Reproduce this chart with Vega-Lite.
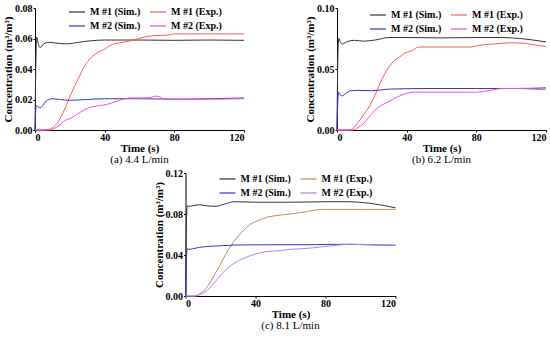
{
  "$schema": "https://vega.github.io/schema/vega-lite/v6.json",
  "padding": {"left": 2, "top": 3, "right": 2, "bottom": 0},
  "config": {
    "view": {"stroke": null},
    "axis": {"grid": false, "domainColor": "black", "tickColor": "black", "labelFont": "Liberation Serif", "labelFontWeight": "bold", "labelFontSize": 10, "labelColor": "black", "titleFont": "Liberation Serif", "titleFontWeight": "bold", "titleFontSize": 11, "titleColor": "black", "tickSize": 2, "labelPadding": 1, "titlePadding": 1},
    "axisX": {"labelPadding": 0, "titlePadding": 0},
    "legend": {"orient": "none", "direction": "horizontal", "columns": 2, "symbolType": "stroke", "symbolSize": 256, "symbolStrokeWidth": 1.2, "labelFont": "Liberation Serif", "labelFontWeight": "bold", "labelFontSize": 10, "labelColor": "black", "columnPadding": 6, "rowPadding": -7, "labelOffset": 4, "title": null},
    "title": {"font": "Liberation Serif", "fontWeight": "normal", "fontSize": 11, "color": "black", "offset": 1}
  },
  "datasets": {
    "d": [
      {"p":"a","s":"M #1 (Sim.)","t":0,"c":0},{"p":"a","s":"M #1 (Sim.)","t":0.5,"c":0.045},{"p":"a","s":"M #1 (Sim.)","t":1,"c":0.061},{"p":"a","s":"M #1 (Sim.)","t":2,"c":0.056},{"p":"a","s":"M #1 (Sim.)","t":3,"c":0.054},{"p":"a","s":"M #1 (Sim.)","t":5,"c":0.0565},{"p":"a","s":"M #1 (Sim.)","t":8,"c":0.0575},{"p":"a","s":"M #1 (Sim.)","t":12,"c":0.057},{"p":"a","s":"M #1 (Sim.)","t":18,"c":0.0565},{"p":"a","s":"M #1 (Sim.)","t":25,"c":0.0575},{"p":"a","s":"M #1 (Sim.)","t":32,"c":0.0585},{"p":"a","s":"M #1 (Sim.)","t":40,"c":0.059},{"p":"a","s":"M #1 (Sim.)","t":60,"c":0.059},{"p":"a","s":"M #1 (Sim.)","t":80,"c":0.0588},{"p":"a","s":"M #1 (Sim.)","t":100,"c":0.059},{"p":"a","s":"M #1 (Sim.)","t":120,"c":0.0588},
      {"p":"a","s":"M #1 (Exp.)","t":0,"c":0},{"p":"a","s":"M #1 (Exp.)","t":5,"c":0},{"p":"a","s":"M #1 (Exp.)","t":8,"c":0.0005},{"p":"a","s":"M #1 (Exp.)","t":10,"c":0.0015},{"p":"a","s":"M #1 (Exp.)","t":13,"c":0.005},{"p":"a","s":"M #1 (Exp.)","t":16,"c":0.011},{"p":"a","s":"M #1 (Exp.)","t":19,"c":0.019},{"p":"a","s":"M #1 (Exp.)","t":22,"c":0.027},{"p":"a","s":"M #1 (Exp.)","t":25,"c":0.034},{"p":"a","s":"M #1 (Exp.)","t":28,"c":0.041},{"p":"a","s":"M #1 (Exp.)","t":31,"c":0.046},{"p":"a","s":"M #1 (Exp.)","t":35,"c":0.05},{"p":"a","s":"M #1 (Exp.)","t":40,"c":0.053},{"p":"a","s":"M #1 (Exp.)","t":44,"c":0.056},{"p":"a","s":"M #1 (Exp.)","t":48,"c":0.057},{"p":"a","s":"M #1 (Exp.)","t":53,"c":0.058},{"p":"a","s":"M #1 (Exp.)","t":58,"c":0.0595},{"p":"a","s":"M #1 (Exp.)","t":63,"c":0.061},{"p":"a","s":"M #1 (Exp.)","t":70,"c":0.062},{"p":"a","s":"M #1 (Exp.)","t":76,"c":0.0622},{"p":"a","s":"M #1 (Exp.)","t":80,"c":0.063},{"p":"a","s":"M #1 (Exp.)","t":100,"c":0.063},{"p":"a","s":"M #1 (Exp.)","t":120,"c":0.063},
      {"p":"a","s":"M #2 (Sim.)","t":0,"c":0},{"p":"a","s":"M #2 (Sim.)","t":0.5,"c":0.014},{"p":"a","s":"M #2 (Sim.)","t":1,"c":0.016},{"p":"a","s":"M #2 (Sim.)","t":2,"c":0.015},{"p":"a","s":"M #2 (Sim.)","t":3,"c":0.0145},{"p":"a","s":"M #2 (Sim.)","t":5,"c":0.017},{"p":"a","s":"M #2 (Sim.)","t":7,"c":0.0195},{"p":"a","s":"M #2 (Sim.)","t":10,"c":0.0205},{"p":"a","s":"M #2 (Sim.)","t":14,"c":0.02},{"p":"a","s":"M #2 (Sim.)","t":20,"c":0.0195},{"p":"a","s":"M #2 (Sim.)","t":30,"c":0.02},{"p":"a","s":"M #2 (Sim.)","t":40,"c":0.0205},{"p":"a","s":"M #2 (Sim.)","t":60,"c":0.0205},{"p":"a","s":"M #2 (Sim.)","t":80,"c":0.0202},{"p":"a","s":"M #2 (Sim.)","t":100,"c":0.0205},{"p":"a","s":"M #2 (Sim.)","t":120,"c":0.021},
      {"p":"a","s":"M #2 (Exp.)","t":0,"c":0},{"p":"a","s":"M #2 (Exp.)","t":8,"c":0},{"p":"a","s":"M #2 (Exp.)","t":11,"c":0.001},{"p":"a","s":"M #2 (Exp.)","t":14,"c":0.003},{"p":"a","s":"M #2 (Exp.)","t":17,"c":0.006},{"p":"a","s":"M #2 (Exp.)","t":21,"c":0.008},{"p":"a","s":"M #2 (Exp.)","t":25,"c":0.011},{"p":"a","s":"M #2 (Exp.)","t":28,"c":0.013},{"p":"a","s":"M #2 (Exp.)","t":32,"c":0.015},{"p":"a","s":"M #2 (Exp.)","t":37,"c":0.016},{"p":"a","s":"M #2 (Exp.)","t":42,"c":0.017},{"p":"a","s":"M #2 (Exp.)","t":46,"c":0.0185},{"p":"a","s":"M #2 (Exp.)","t":50,"c":0.02},{"p":"a","s":"M #2 (Exp.)","t":55,"c":0.021},{"p":"a","s":"M #2 (Exp.)","t":62,"c":0.021},{"p":"a","s":"M #2 (Exp.)","t":66,"c":0.0212},{"p":"a","s":"M #2 (Exp.)","t":69,"c":0.0222},{"p":"a","s":"M #2 (Exp.)","t":71,"c":0.022},{"p":"a","s":"M #2 (Exp.)","t":74,"c":0.0205},{"p":"a","s":"M #2 (Exp.)","t":80,"c":0.0202},{"p":"a","s":"M #2 (Exp.)","t":100,"c":0.0202},{"p":"a","s":"M #2 (Exp.)","t":120,"c":0.0205},
      {"p":"b","s":"M #1 (Sim.)","t":0,"c":0},{"p":"b","s":"M #1 (Sim.)","t":0.5,"c":0.06},{"p":"b","s":"M #1 (Sim.)","t":1,"c":0.075},{"p":"b","s":"M #1 (Sim.)","t":2,"c":0.072},{"p":"b","s":"M #1 (Sim.)","t":3,"c":0.0705},{"p":"b","s":"M #1 (Sim.)","t":6,"c":0.0725},{"p":"b","s":"M #1 (Sim.)","t":10,"c":0.0735},{"p":"b","s":"M #1 (Sim.)","t":15,"c":0.0728},{"p":"b","s":"M #1 (Sim.)","t":22,"c":0.0738},{"p":"b","s":"M #1 (Sim.)","t":30,"c":0.0758},{"p":"b","s":"M #1 (Sim.)","t":40,"c":0.0758},{"p":"b","s":"M #1 (Sim.)","t":60,"c":0.0755},{"p":"b","s":"M #1 (Sim.)","t":80,"c":0.0758},{"p":"b","s":"M #1 (Sim.)","t":95,"c":0.0758},{"p":"b","s":"M #1 (Sim.)","t":105,"c":0.075},{"p":"b","s":"M #1 (Sim.)","t":120,"c":0.0722},
      {"p":"b","s":"M #1 (Exp.)","t":0,"c":0},{"p":"b","s":"M #1 (Exp.)","t":7,"c":0},{"p":"b","s":"M #1 (Exp.)","t":9,"c":0.001},{"p":"b","s":"M #1 (Exp.)","t":12,"c":0.006},{"p":"b","s":"M #1 (Exp.)","t":15,"c":0.012},{"p":"b","s":"M #1 (Exp.)","t":18,"c":0.018},{"p":"b","s":"M #1 (Exp.)","t":21,"c":0.026},{"p":"b","s":"M #1 (Exp.)","t":24,"c":0.036},{"p":"b","s":"M #1 (Exp.)","t":27,"c":0.045},{"p":"b","s":"M #1 (Exp.)","t":30,"c":0.052},{"p":"b","s":"M #1 (Exp.)","t":33,"c":0.057},{"p":"b","s":"M #1 (Exp.)","t":36,"c":0.06},{"p":"b","s":"M #1 (Exp.)","t":39,"c":0.063},{"p":"b","s":"M #1 (Exp.)","t":43,"c":0.065},{"p":"b","s":"M #1 (Exp.)","t":47,"c":0.068},{"p":"b","s":"M #1 (Exp.)","t":55,"c":0.068},{"p":"b","s":"M #1 (Exp.)","t":65,"c":0.068},{"p":"b","s":"M #1 (Exp.)","t":76,"c":0.068},{"p":"b","s":"M #1 (Exp.)","t":82,"c":0.0695},{"p":"b","s":"M #1 (Exp.)","t":90,"c":0.0705},{"p":"b","s":"M #1 (Exp.)","t":100,"c":0.0715},{"p":"b","s":"M #1 (Exp.)","t":107,"c":0.0712},{"p":"b","s":"M #1 (Exp.)","t":113,"c":0.0698},{"p":"b","s":"M #1 (Exp.)","t":120,"c":0.0685},
      {"p":"b","s":"M #2 (Sim.)","t":0,"c":0},{"p":"b","s":"M #2 (Sim.)","t":0.5,"c":0.025},{"p":"b","s":"M #2 (Sim.)","t":1,"c":0.031},{"p":"b","s":"M #2 (Sim.)","t":2,"c":0.0285},{"p":"b","s":"M #2 (Sim.)","t":3,"c":0.028},{"p":"b","s":"M #2 (Sim.)","t":5,"c":0.03},{"p":"b","s":"M #2 (Sim.)","t":8,"c":0.0322},{"p":"b","s":"M #2 (Sim.)","t":12,"c":0.0325},{"p":"b","s":"M #2 (Sim.)","t":20,"c":0.0322},{"p":"b","s":"M #2 (Sim.)","t":30,"c":0.0335},{"p":"b","s":"M #2 (Sim.)","t":50,"c":0.034},{"p":"b","s":"M #2 (Sim.)","t":80,"c":0.034},{"p":"b","s":"M #2 (Sim.)","t":100,"c":0.034},{"p":"b","s":"M #2 (Sim.)","t":120,"c":0.0345},
      {"p":"b","s":"M #2 (Exp.)","t":0,"c":0},{"p":"b","s":"M #2 (Exp.)","t":9,"c":0},{"p":"b","s":"M #2 (Exp.)","t":12,"c":0.002},{"p":"b","s":"M #2 (Exp.)","t":15,"c":0.005},{"p":"b","s":"M #2 (Exp.)","t":18,"c":0.01},{"p":"b","s":"M #2 (Exp.)","t":21,"c":0.015},{"p":"b","s":"M #2 (Exp.)","t":24,"c":0.019},{"p":"b","s":"M #2 (Exp.)","t":28,"c":0.022},{"p":"b","s":"M #2 (Exp.)","t":32,"c":0.025},{"p":"b","s":"M #2 (Exp.)","t":36,"c":0.028},{"p":"b","s":"M #2 (Exp.)","t":40,"c":0.03},{"p":"b","s":"M #2 (Exp.)","t":45,"c":0.031},{"p":"b","s":"M #2 (Exp.)","t":55,"c":0.031},{"p":"b","s":"M #2 (Exp.)","t":70,"c":0.031},{"p":"b","s":"M #2 (Exp.)","t":80,"c":0.031},{"p":"b","s":"M #2 (Exp.)","t":88,"c":0.0325},{"p":"b","s":"M #2 (Exp.)","t":95,"c":0.034},{"p":"b","s":"M #2 (Exp.)","t":105,"c":0.034},{"p":"b","s":"M #2 (Exp.)","t":112,"c":0.0335},{"p":"b","s":"M #2 (Exp.)","t":120,"c":0.033},
      {"p":"c","s":"M #1 (Sim.)","t":0,"c":0},{"p":"c","s":"M #1 (Sim.)","t":0.5,"c":0.07},{"p":"c","s":"M #1 (Sim.)","t":1,"c":0.088},{"p":"c","s":"M #1 (Sim.)","t":2,"c":0.0875},{"p":"c","s":"M #1 (Sim.)","t":4,"c":0.088},{"p":"c","s":"M #1 (Sim.)","t":8,"c":0.089},{"p":"c","s":"M #1 (Sim.)","t":12,"c":0.088},{"p":"c","s":"M #1 (Sim.)","t":17,"c":0.0875},{"p":"c","s":"M #1 (Sim.)","t":22,"c":0.0895},{"p":"c","s":"M #1 (Sim.)","t":28,"c":0.092},{"p":"c","s":"M #1 (Sim.)","t":40,"c":0.0915},{"p":"c","s":"M #1 (Sim.)","t":60,"c":0.0915},{"p":"c","s":"M #1 (Sim.)","t":80,"c":0.092},{"p":"c","s":"M #1 (Sim.)","t":92,"c":0.092},{"p":"c","s":"M #1 (Sim.)","t":105,"c":0.0905},{"p":"c","s":"M #1 (Sim.)","t":120,"c":0.086},
      {"p":"c","s":"M #1 (Exp.)","t":0,"c":0},{"p":"c","s":"M #1 (Exp.)","t":5,"c":0},{"p":"c","s":"M #1 (Exp.)","t":8,"c":0.002},{"p":"c","s":"M #1 (Exp.)","t":11,"c":0.006},{"p":"c","s":"M #1 (Exp.)","t":14,"c":0.013},{"p":"c","s":"M #1 (Exp.)","t":17,"c":0.022},{"p":"c","s":"M #1 (Exp.)","t":20,"c":0.031},{"p":"c","s":"M #1 (Exp.)","t":23,"c":0.041},{"p":"c","s":"M #1 (Exp.)","t":26,"c":0.049},{"p":"c","s":"M #1 (Exp.)","t":29,"c":0.056},{"p":"c","s":"M #1 (Exp.)","t":32,"c":0.062},{"p":"c","s":"M #1 (Exp.)","t":35,"c":0.067},{"p":"c","s":"M #1 (Exp.)","t":38,"c":0.071},{"p":"c","s":"M #1 (Exp.)","t":42,"c":0.074},{"p":"c","s":"M #1 (Exp.)","t":47,"c":0.077},{"p":"c","s":"M #1 (Exp.)","t":52,"c":0.0785},{"p":"c","s":"M #1 (Exp.)","t":60,"c":0.08},{"p":"c","s":"M #1 (Exp.)","t":68,"c":0.082},{"p":"c","s":"M #1 (Exp.)","t":75,"c":0.084},{"p":"c","s":"M #1 (Exp.)","t":80,"c":0.0845},{"p":"c","s":"M #1 (Exp.)","t":100,"c":0.0845},{"p":"c","s":"M #1 (Exp.)","t":120,"c":0.0845},
      {"p":"c","s":"M #2 (Sim.)","t":0,"c":0},{"p":"c","s":"M #2 (Sim.)","t":0.5,"c":0.035},{"p":"c","s":"M #2 (Sim.)","t":1,"c":0.046},{"p":"c","s":"M #2 (Sim.)","t":2,"c":0.0455},{"p":"c","s":"M #2 (Sim.)","t":4,"c":0.046},{"p":"c","s":"M #2 (Sim.)","t":8,"c":0.0475},{"p":"c","s":"M #2 (Sim.)","t":14,"c":0.0485},{"p":"c","s":"M #2 (Sim.)","t":20,"c":0.049},{"p":"c","s":"M #2 (Sim.)","t":30,"c":0.0498},{"p":"c","s":"M #2 (Sim.)","t":50,"c":0.05},{"p":"c","s":"M #2 (Sim.)","t":70,"c":0.05},{"p":"c","s":"M #2 (Sim.)","t":90,"c":0.0505},{"p":"c","s":"M #2 (Sim.)","t":105,"c":0.05},{"p":"c","s":"M #2 (Sim.)","t":120,"c":0.0495},
      {"p":"c","s":"M #2 (Exp.)","t":0,"c":0},{"p":"c","s":"M #2 (Exp.)","t":6,"c":0},{"p":"c","s":"M #2 (Exp.)","t":9,"c":0.002},{"p":"c","s":"M #2 (Exp.)","t":12,"c":0.005},{"p":"c","s":"M #2 (Exp.)","t":15,"c":0.01},{"p":"c","s":"M #2 (Exp.)","t":18,"c":0.016},{"p":"c","s":"M #2 (Exp.)","t":21,"c":0.022},{"p":"c","s":"M #2 (Exp.)","t":24,"c":0.027},{"p":"c","s":"M #2 (Exp.)","t":27,"c":0.031},{"p":"c","s":"M #2 (Exp.)","t":31,"c":0.035},{"p":"c","s":"M #2 (Exp.)","t":35,"c":0.038},{"p":"c","s":"M #2 (Exp.)","t":40,"c":0.041},{"p":"c","s":"M #2 (Exp.)","t":45,"c":0.043},{"p":"c","s":"M #2 (Exp.)","t":52,"c":0.044},{"p":"c","s":"M #2 (Exp.)","t":60,"c":0.0455},{"p":"c","s":"M #2 (Exp.)","t":70,"c":0.0465},{"p":"c","s":"M #2 (Exp.)","t":78,"c":0.048},{"p":"c","s":"M #2 (Exp.)","t":86,"c":0.0495},{"p":"c","s":"M #2 (Exp.)","t":95,"c":0.0505},{"p":"c","s":"M #2 (Exp.)","t":105,"c":0.05},{"p":"c","s":"M #2 (Exp.)","t":120,"c":0.0495}
    ]
  },
  "resolve": {"scale": {"color": "independent", "y": "independent", "x": "independent"}},
  "spacing": 3,
  "center": true,
  "vconcat": [
    {
      "spacing": 58,
      "resolve": {"scale": {"color": "independent", "y": "independent", "x": "independent"}},
      "hconcat": [
        {
          "width": 209, "height": 122,
          "data": {"name": "d"},
          "transform": [{"filter": "datum.p === 'a'"}],
          "title": {"text": "(a) 4.4 L/min", "orient": "bottom"},
          "mark": {"type": "line", "strokeWidth": 1, "interpolate": "monotone"},
          "encoding": {
            "x": {"field": "t", "type": "quantitative", "scale": {"domain": [0, 120]}, "axis": {"values": [0, 40, 80, 120], "title": "Time (s)"}},
            "y": {"field": "c", "type": "quantitative", "scale": {"domain": [0, 0.08]}, "axis": {"values": [0, 0.02, 0.04, 0.06, 0.08], "format": ".2f", "title": "Concentration (m³/m³)"}},
            "color": {"field": "s", "type": "nominal", "scale": {"domain": ["M #1 (Sim.)", "M #1 (Exp.)", "M #2 (Sim.)", "M #2 (Exp.)"], "range": ["#333333", "#ff5a5a", "#3535c0", "#f04ee0"]}, "legend": {"legendX": 33, "legendY": -5}}
          }
        },
        {
          "width": 209, "height": 122,
          "data": {"name": "d"},
          "transform": [{"filter": "datum.p === 'b'"}],
          "title": {"text": "(b) 6.2 L/min", "orient": "bottom"},
          "mark": {"type": "line", "strokeWidth": 1, "interpolate": "monotone"},
          "encoding": {
            "x": {"field": "t", "type": "quantitative", "scale": {"domain": [0, 120]}, "axis": {"values": [0, 40, 80, 120], "title": "Time (s)"}},
            "y": {"field": "c", "type": "quantitative", "scale": {"domain": [0, 0.10]}, "axis": {"values": [0, 0.05, 0.10], "format": ".2f", "title": "Concentration (m³/m³)"}},
            "color": {"field": "s", "type": "nominal", "scale": {"domain": ["M #1 (Sim.)", "M #1 (Exp.)", "M #2 (Sim.)", "M #2 (Exp.)"], "range": ["#333333", "#ff5a5a", "#3535c0", "#f04ee0"]}, "legend": {"legendX": 32, "legendY": -2}}
          }
        }
      ]
    },
    {
      "width": 210, "height": 123,
      "data": {"name": "d"},
      "transform": [{"filter": "datum.p === 'c'"}],
      "title": {"text": "(c) 8.1 L/min", "orient": "bottom"},
      "mark": {"type": "line", "strokeWidth": 1, "interpolate": "monotone"},
      "encoding": {
        "x": {"field": "t", "type": "quantitative", "scale": {"domain": [0, 120]}, "axis": {"values": [0, 40, 80, 120], "title": "Time (s)"}},
        "y": {"field": "c", "type": "quantitative", "scale": {"domain": [0, 0.12]}, "axis": {"values": [0, 0.04, 0.08, 0.12], "format": ".2f", "title": "Concentration (m³/m³)"}},
        "color": {"field": "s", "type": "nominal", "scale": {"domain": ["M #1 (Sim.)", "M #1 (Exp.)", "M #2 (Sim.)", "M #2 (Exp.)"], "range": ["#333333", "#c08a60", "#3535c8", "#b57cf0"]}, "legend": {"legendX": 33, "legendY": -3}}
      }
    }
  ]
}
